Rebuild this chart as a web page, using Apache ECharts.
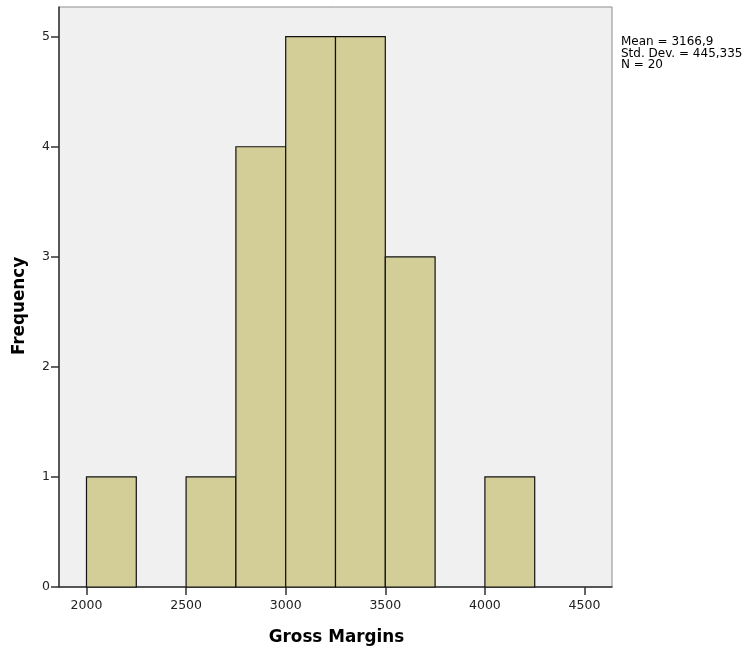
<!DOCTYPE html>
<html>
<head>
<meta charset="utf-8">
<script src="https://cdn.jsdelivr.net/npm/echarts@6/dist/echarts.min.js"></script>
<style>
  html, body { margin: 0; padding: 0; background: #fff; }
  #chart { width: 749px; height: 648px; }
</style>
</head>
<body>
<div id="chart"></div>
<script>
// Histogram of gross margins, bins of width 250
const binStarts = [2000, 2250, 2500, 2750, 3000, 3250, 3500, 3750, 4000];
const binWidth = 250;
const counts = [1, 0, 1, 4, 5, 5, 3, 0, 1];
const xTicks = [2000, 2500, 3000, 3500, 4000, 4500];
const yTicks = [0, 1, 2, 3, 4, 5];
const statLines = ['Mean = 3166,9', 'Std. Dev. = 445,335', 'N = 20'];
const xTitle = 'Gross Margins';
const yTitle = 'Frequency';

const chart = echarts.init(document.getElementById('chart'), null, { renderer: 'canvas' });

const binData = binStarts
  .map((s, i) => [s, s + binWidth, counts[i]])
  .filter(d => d[2] > 0);

const sans = 'DejaVu Sans, Verdana, sans-serif';
const tickFont = { fontFamily: sans, fontSize: 12.5, color: '#222' };
const titleFont = { fontFamily: sans, fontWeight: 'bold', fontSize: 16.8, fill: '#000' };

chart.setOption({
  animation: false,
  backgroundColor: '#fff',
  grid: {
    left: 59, top: 7, right: 137, bottom: 61,
    show: true,
    backgroundColor: '#F0F0F0',
    borderColor: '#8c8c8c',
    borderWidth: 1
  },
  xAxis: {
    type: 'value',
    min: 1862,
    max: 4638,
    axisLine: { show: true, lineStyle: { color: '#333', width: 1.5 } },
    axisTick: { show: true, length: 8, customValues: xTicks, lineStyle: { color: '#333', width: 1.5 } },
    axisLabel: Object.assign({ customValues: xTicks, margin: 12, formatter: v => String(v) }, tickFont),
    splitLine: { show: false }
  },
  yAxis: {
    type: 'value',
    min: 0,
    max: 5.27,
    axisLine: { show: true, lineStyle: { color: '#333', width: 1.5 } },
    axisTick: { show: true, length: 8, customValues: yTicks, lineStyle: { color: '#333', width: 1.5 } },
    axisLabel: Object.assign({ customValues: yTicks, margin: 9, formatter: v => String(v) }, tickFont),
    splitLine: { show: false }
  },
  series: [{
    type: 'custom',
    data: binData,
    encode: { x: [0, 1], y: 2 },
    renderItem: function (params, api) {
      const p0 = api.coord([api.value(0), 0]);
      const p1 = api.coord([api.value(1), api.value(2)]);
      return {
        type: 'rect',
        shape: { x: p0[0], y: p1[1], width: p1[0] - p0[0], height: p0[1] - p1[1] },
        style: { fill: '#D3CE98', stroke: '#111', lineWidth: 1.2 }
      };
    }
  }],
  graphic: [
    {
      type: 'text',
      x: 336.5,
      y: 638,
      style: Object.assign({ text: xTitle, align: 'center', verticalAlign: 'middle' }, titleFont)
    },
    {
      type: 'text',
      x: 19.5,
      y: 306,
      rotation: Math.PI / 2,
      style: Object.assign({ text: yTitle, align: 'center', verticalAlign: 'middle' }, titleFont)
    },
    {
      type: 'text',
      left: 621,
      top: 36,
      style: {
        text: statLines.join('\n'),
        fontFamily: sans,
        fontSize: 12,
        lineHeight: 11.4,
        fill: '#000'
      }
    }
  ]
});
</script>
</body>
</html>
